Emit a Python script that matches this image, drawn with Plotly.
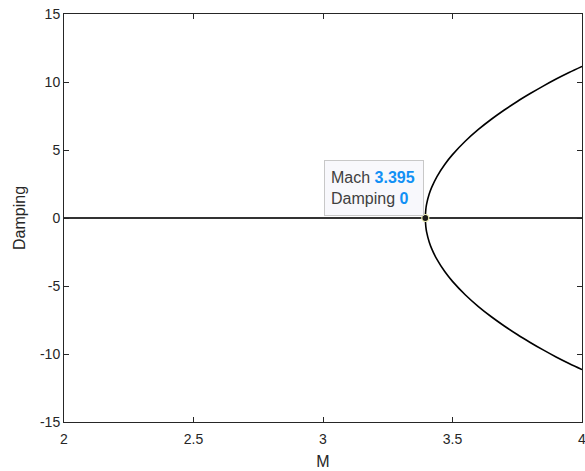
import plotly.graph_objects as go

# Zero-damping branch
mach_zero = [2.0, 4.0]
damping_zero = [0.0, 0.0]

# Bifurcated branch
mach_branch = [3.395, 3.397, 3.40, 3.41, 3.42, 3.44, 3.47, 3.50, 3.55, 3.60, 3.65,
               3.70, 3.75, 3.80, 3.85, 3.90, 3.95, 4.00]
damping_upper = [0.0, 0.64, 1.02, 1.76, 2.27, 3.05, 3.94, 4.66, 5.66, 6.51, 7.26,
                 7.94, 8.57, 9.15, 9.70, 10.22, 10.70, 11.15]
damping_lower = [-v for v in damping_upper]

# Data tip
tip_mach = 3.395
tip_damping = 0

x_ticks = [2, 2.5, 3, 3.5, 4]
x_tick_labels = ["2", "2.5", "3", "3.5", "4"]
y_ticks = [-15, -10, -5, 0, 5, 10, 15]
y_tick_labels = ["-15", "-10", "-5", "0", "5", "10", "15"]

axis_color = "#262626"
font_family = "Liberation Sans, Arial, Helvetica, sans-serif"

fig = go.Figure()
fig.add_trace(go.Scatter(x=mach_zero, y=damping_zero, mode="lines",
                         line=dict(color="#333333", width=2), hoverinfo="skip"))
fig.add_trace(go.Scatter(x=mach_branch, y=damping_upper, mode="lines",
                         line=dict(color="#000000", width=1.6, shape="spline"),
                         hoverinfo="skip"))
fig.add_trace(go.Scatter(x=mach_branch, y=damping_lower, mode="lines",
                         line=dict(color="#000000", width=1.6, shape="spline"),
                         hoverinfo="skip"))
fig.add_trace(go.Scatter(x=[tip_mach], y=[tip_damping], mode="markers",
                         marker=dict(color="#1a1a1a", size=7,
                                     line=dict(color="#f2f2b8", width=1.2)),
                         hoverinfo="skip"))

fig.add_annotation(
    x=tip_mach, y=tip_damping, xref="x", yref="y",
    xanchor="right", yanchor="bottom", xshift=-1, yshift=2,
    showarrow=False, align="left", width=86, height=42,
    text=("Mach <span style='color:#1190f5'><b>%.3f</b></span><br>"
          "Damping <span style='color:#1190f5'><b>%g</b></span>") % (tip_mach, tip_damping),
    font=dict(family=font_family, size=16, color="#404040"),
    bgcolor="#f8f8fc", bordercolor="#c8c8c8", borderwidth=1, borderpad=6,
)

fig.update_layout(
    width=585, height=471,
    margin=dict(l=64, r=3, t=14, b=49),
    paper_bgcolor="white", plot_bgcolor="white",
    showlegend=False,
    font=dict(family=font_family, size=14, color=axis_color),
)
fig.update_xaxes(
    range=[2, 4], tickvals=x_ticks, ticktext=x_tick_labels, automargin=False,
    showgrid=False, zeroline=False, showline=True, linecolor=axis_color, linewidth=1,
    mirror="ticks", ticks="inside", ticklen=5, tickcolor=axis_color,
    ticklabeloverflow="allow", ticklabelstandoff=4,
    title=dict(text="M", font=dict(size=16, color=axis_color), standoff=10),
    tickfont=dict(size=14, color=axis_color),
)
fig.update_yaxes(
    range=[-15, 15], tickvals=y_ticks, ticktext=y_tick_labels, automargin=False,
    showgrid=False, zeroline=False, showline=True, linecolor=axis_color, linewidth=1,
    mirror="ticks", ticks="inside", ticklen=5, tickcolor=axis_color,
    ticklabeloverflow="allow",
    title=dict(text="Damping", font=dict(size=16, color=axis_color), standoff=10),
    tickfont=dict(size=14, color=axis_color),
)

fig.write_html("out.html", config={"displayModeBar": False},
               post_script="document.body.style.margin='0';document.body.style.overflow='hidden';")
